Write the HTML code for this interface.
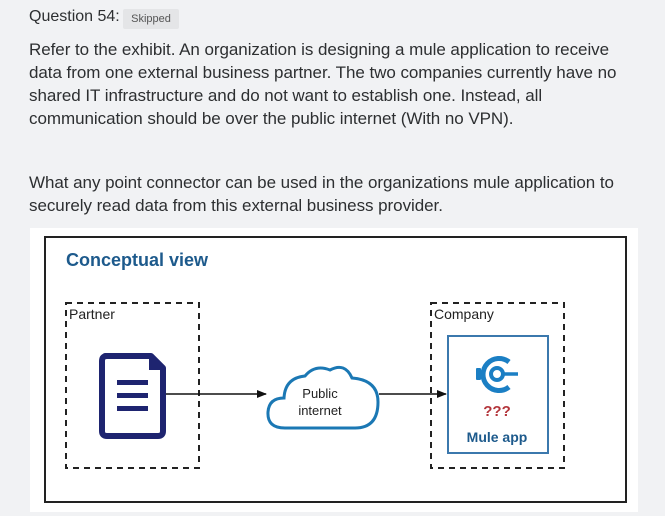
<!DOCTYPE html>
<html><head><meta charset="utf-8"><style>
html,body{margin:0;padding:0;}
body{width:665px;height:516px;background:#f1f2f4;font-family:"Liberation Sans",sans-serif;position:relative;overflow:hidden;color:#2d2f31;}
.q{position:absolute;left:29px;top:8px;font-size:16px;color:#2d2f31;}
.badge{position:absolute;left:123px;top:9px;width:56px;height:20px;background:#e4e5e7;color:#555;font-size:11px;line-height:20px;text-align:center;border-radius:2px;}
.p{position:absolute;left:29px;font-size:17px;line-height:23px;color:#2d2f31;white-space:nowrap;letter-spacing:-0.05px;}
.panel{position:absolute;left:30px;top:228px;width:608px;height:284px;background:#fff;}
</style></head><body>
<div class="q">Question 54:</div>
<div class="badge">Skipped</div>
<div class="p" style="top:38px">Refer to the exhibit. An organization is designing a mule application to receive<br>data from one external business partner. The two companies currently have no<br>shared IT infrastructure and do not want to establish one. Instead, all<br>communication should be over the public internet (With no VPN).</div>
<div class="p" style="top:171px">What any point connector can be used in the organizations mule application to<br>securely read data from this external business provider.</div>
<div class="panel"></div>
<svg width="665" height="516" style="position:absolute;left:0;top:0" xmlns="http://www.w3.org/2000/svg">
<defs><marker id="a" markerWidth="10" markerHeight="8" refX="9" refY="4" orient="auto" markerUnits="userSpaceOnUse"><path d="M0,0 L10,4 L0,8 Z" fill="#111"/></marker></defs>
<rect x="45" y="237" width="581" height="265" fill="#fff" stroke="#222" stroke-width="2"/>
<text x="66" y="266" font-family="Liberation Sans" font-weight="bold" font-size="18" fill="#1d5a8c">Conceptual view</text>
<rect x="66" y="303" width="133" height="165" fill="none" stroke="#222" stroke-width="2" stroke-dasharray="6,5"/>
<text x="69" y="319" font-size="14" fill="#222">Partner</text>
<rect x="431" y="303" width="133" height="165" fill="none" stroke="#222" stroke-width="2" stroke-dasharray="6,5"/>
<text x="434" y="319" font-size="14" fill="#222">Company</text>
<path d="M105,356 H151 L163,368 V431 Q163,436 158,436 H107 Q102,436 102,431 V361 Q102,356 107,356 Z" fill="#fff" stroke="#1e2470" stroke-width="6" stroke-linejoin="round"/>
<path d="M149,356 L163,370 H149 Z" fill="#1e2470"/>
<rect x="117" y="380" width="31" height="5" fill="#1e2470"/>
<rect x="117" y="393" width="31" height="5" fill="#1e2470"/>
<rect x="117" y="406" width="31" height="5" fill="#1e2470"/>
<line x1="166" y1="394" x2="266" y2="394" stroke="#111" stroke-width="1.6" marker-end="url(#a)"/>
<path d="M285,428 Q267,428 268,412 Q269,398 284,398 Q285,378 305,376 Q315,364 330,370 Q345,362 352,378 Q378,380 378,402 Q378,428 355,428 Z" fill="#fff" stroke="#1b78b4" stroke-width="3"/>
<text x="320" y="398" text-anchor="middle" font-size="13" fill="#222">Public</text>
<text x="320" y="415" text-anchor="middle" font-size="13" fill="#222">internet</text>
<line x1="379" y1="394" x2="446" y2="394" stroke="#111" stroke-width="1.6" marker-end="url(#a)"/>
<rect x="448" y="336" width="100" height="117" fill="#fff" stroke="#3b78ad" stroke-width="2"/>
<path d="M509,362 A16,16 0 1 0 509,387" fill="none" stroke="#1b7fc4" stroke-width="5"/>
<circle cx="497" cy="374" r="6" fill="none" stroke="#1b7fc4" stroke-width="4"/>
<line x1="503" y1="374" x2="518" y2="374" stroke="#1b7fc4" stroke-width="3.5"/>
<rect x="476" y="368" width="5" height="12" rx="1" fill="#1b7fc4"/>
<text x="497" y="416" text-anchor="middle" font-weight="bold" font-size="15" fill="#b3343a">???</text>
<text x="497" y="442" text-anchor="middle" font-weight="bold" font-size="14" fill="#1d5a8c">Mule app</text>
</svg>
</body></html>
